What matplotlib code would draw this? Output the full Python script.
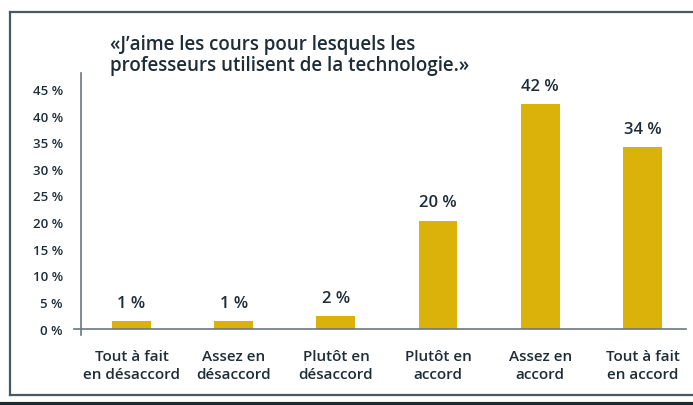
import matplotlib.pyplot as plt
from matplotlib.lines import Line2D

categories = ["Tout à fait\nen désaccord", "Assez en\ndésaccord", "Plutôt en\ndésaccord",
              "Plutôt en\naccord", "Assez en\naccord", "Tout à fait\nen accord"]
values = [1.5, 1.5, 2.3, 20.3, 42.2, 34.1]
value_labels = ["1 %", "1 %", "2 %", "20 %", "42 %", "34 %"]
yticks = [0, 5, 10, 15, 20, 25, 30, 35, 40, 45]

gold = "#DAB20A"
ink = "#1F2D38"
axis_col = "#6B7780"

plt.rcParams['font.family'] = ['Open Sans', 'DejaVu Sans']

fig = plt.figure(figsize=(6.93, 4.06), dpi=100)
W, H = 693, 406

# axes placed in pixel coords
ax = fig.add_axes([81 / W, 1 - 336 / H, (686 - 81) / W, (336 - 74) / H])
x = range(len(values))
ax.bar(x, values, width=0.38, color=gold, zorder=2)
ax.set_xlim(-0.494, 5.426)
ax.set_ylim(-1.2, 48)

for i, (v, lab) in enumerate(zip(values, value_labels)):
    ax.text(i, v + 1.9, lab, ha='center', va='bottom', fontsize=12,
            fontweight='semibold', color=ink)

ax.set_yticks(yticks)
ax.set_yticklabels([f"{t} %" for t in yticks], fontsize=9.5,
                   fontweight='semibold', color=ink)
ax.tick_params(axis='y', length=0, pad=13)
ax.set_xticks([])
for s in ['top', 'right', 'bottom']:
    ax.spines[s].set_visible(False)
ax.spines['left'].set_color(axis_col)
ax.spines['left'].set_linewidth(1.2)

# x axis line at 0, extending slightly left of the y axis
fig.add_artist(Line2D([74 / W, 686 / W], [1 - 330 / H, 1 - 330 / H],
                      color=axis_col, lw=1.2))

for i, c in enumerate(categories):
    ax.text(i, -3.9, c, ha='center', va='top', fontsize=11,
            fontweight='semibold', color=ink, linespacing=1.3)

fig.text(110 / W, 1 - 35 / H,
         "«J’aime les cours pour lesquels les\nprofesseurs utilisent de la technologie.»",
         ha='left', va='top', fontsize=13.5, fontweight='semibold', color=ink,
         linespacing=1.05)

# frame: left, top, bottom lines
frame_col = "#4A5862"
fig.add_artist(Line2D([10 / W, 1], [1 - 13 / H, 1 - 13 / H], color=frame_col, lw=1.6))
fig.add_artist(Line2D([10 / W, 1], [1 - 396 / H, 1 - 396 / H], color=frame_col, lw=1.6))
fig.add_artist(Line2D([10 / W, 10 / W], [1 - 13 / H, 1 - 396 / H], color=frame_col, lw=1.6))
fig.add_artist(Line2D([0, 1], [1 - 405 / H, 1 - 405 / H], color="#1C2A33", lw=3))

fig.savefig("out.png", dpi=100)
